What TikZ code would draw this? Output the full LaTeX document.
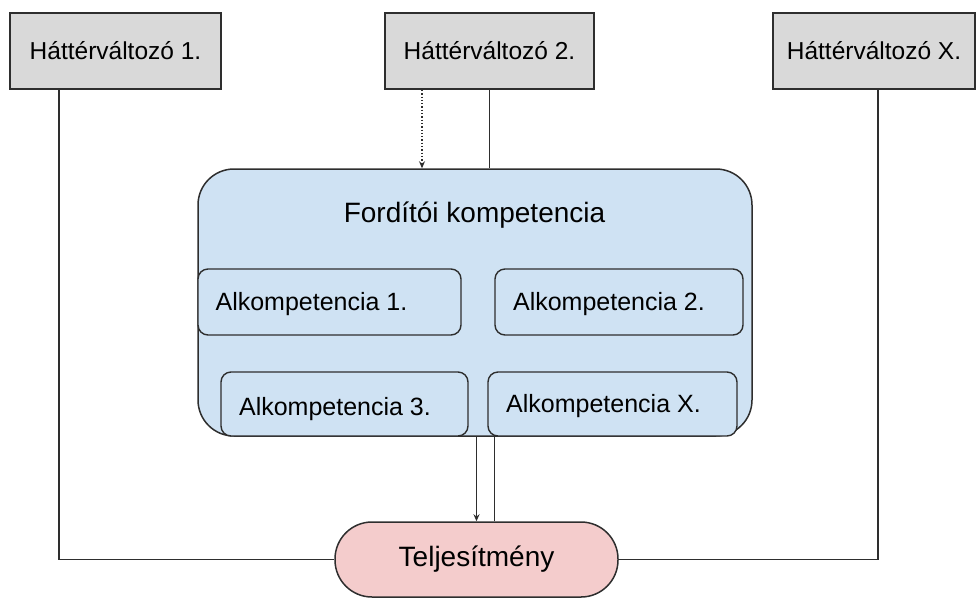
\documentclass[tikz,border=0pt]{standalone}
\usepackage{fontspec}
\setmainfont{Liberation Sans}
\usetikzlibrary{arrows.meta}
\definecolor{boxgray}{HTML}{D9D9D9}
\definecolor{compblue}{HTML}{CFE2F3}
\definecolor{perfpink}{HTML}{F4CCCC}
\definecolor{linegray}{HTML}{2E2E2E}
\begin{document}
\begin{tikzpicture}[x=1pt,y=-1pt,
  hbox/.style={draw=linegray, line width=1.8pt, fill=boxgray, minimum height=76pt, inner sep=0pt, font=\fontsize{24.5}{28}\selectfont},
  compbox/.style={draw=linegray, line width=1.5pt, fill=compblue, rounded corners=36pt, minimum width=554pt, minimum height=267pt, inner sep=0pt},
  alkbox/.style={draw=linegray, line width=1.4pt, fill=compblue, rounded corners=10pt, inner sep=0pt},
  alktext/.style={inner sep=0pt, font=\fontsize{25}{29}\selectfont},
  bigtext/.style={inner sep=0pt, font=\fontsize{28}{32}\selectfont},
  perfbox/.style={draw=linegray, line width=1.5pt, fill=perfpink, rounded corners=37pt, minimum width=283pt, minimum height=75pt, inner sep=0pt, font=\fontsize{28}{32}\selectfont},
  conn/.style={draw=linegray, line width=1.5pt},
  tip/.style={-{Stealth[length=7pt,width=6pt]}}
]
\useasboundingbox (0,0) rectangle (977,598);

\node[hbox, minimum width=211pt] (h1) at (115.5,51) {Háttérváltozó 1.};
\node[hbox, minimum width=209pt] (h2) at (489.5,51) {Háttérváltozó 2.};
\node[hbox, minimum width=202pt] (hx) at (874,51) {Háttérváltozó X.};

\node[compbox] (comp) at (475,302.5) {};
\node[bigtext] (compt) at (474.5,215) {Fordítói kompetencia};

\node[alkbox, minimum width=263pt, minimum height=66pt] (a1) at (329.5,302) {};
\node[alktext] (a1t) at (311.5,304) {Alkompetencia 1.};
\node[alkbox, minimum width=248pt, minimum height=66pt] (a2) at (619,302) {};
\node[alktext] (a2t) at (609,304) {Alkompetencia 2.};
\node[alkbox, minimum width=247pt, minimum height=64pt] (a3) at (344.5,404) {};
\node[alktext] (a3t) at (335,409) {Alkompetencia 3.};
\node[alkbox, minimum width=249pt, minimum height=64pt] (ax) at (612.5,404) {};
\node[alktext] (axt) at (603.5,406) {Alkompetencia X.};

\node[perfbox] (perf) at (476.5,559.5) {Teljesítmény};

\draw[conn] ([xshift=-56.5pt]h1.south) |- (perf.west);
\draw[conn] ([xshift=4pt]hx.south) |- (perf.east);
\draw[conn] (h2.south) -- (h2.south |- comp.north);
\draw[conn, line width=1.3pt, dotted, tip] ([xshift=-67.5pt]h2.south) -- ([xshift=-67.5pt]h2.south |- comp.north);
\draw[conn, tip] (perf.north |- comp.south) -- (perf.north);
\draw[conn] ([xshift=18pt]perf.north) -- ([xshift=18pt]perf.north |- comp.south);
\end{tikzpicture}
\end{document}
